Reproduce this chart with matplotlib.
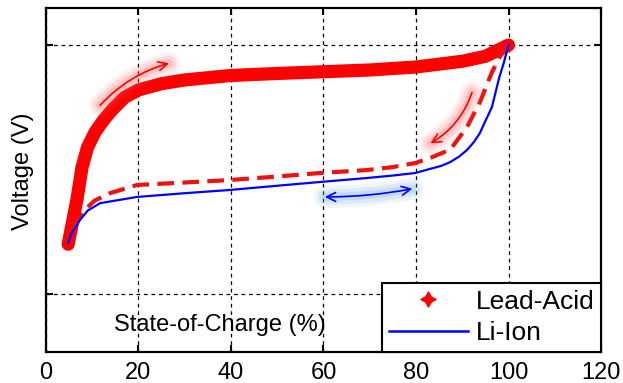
import matplotlib
matplotlib.use("Agg")
import matplotlib.pyplot as plt
from matplotlib.lines import Line2D
from matplotlib.patches import FancyArrowPatch
import numpy as np

plt.rcParams['font.family'] = ['Liberation Sans', 'DejaVu Sans']

# ---- data (normalised voltage) ----
lead_charge_soc = [4.8, 5.7, 6.7, 7.8, 9, 10.6, 12.5, 14.3, 17, 20, 25, 30, 40, 50, 60, 70, 80, 90, 95, 100]
lead_charge_v = [0.20, 0.285, 0.38, 0.51, 0.59, 0.65, 0.70, 0.74, 0.79, 0.82, 0.845, 0.86, 0.878,
                 0.886, 0.893, 0.90, 0.912, 0.935, 0.955, 1.0]

lead_dis_soc = [100, 98, 96.4, 93.8, 91, 87.4, 83.5, 79.8, 75, 69.4, 59.2, 50, 39.8, 30, 19.7, 13.8, 10.5, 8.8, 7.3, 6, 5]
lead_dis_v = [1.0, 0.95, 0.89, 0.77, 0.67, 0.58, 0.55, 0.526, 0.51, 0.498, 0.486, 0.472, 0.458, 0.448,
              0.438, 0.405, 0.375, 0.345, 0.31, 0.26, 0.21]

li_soc = [100, 99, 98, 97.2, 96.4, 95, 93.8, 92.5, 91, 89.3, 87.4, 85.5, 83.5, 79.8, 75, 69.4, 59.2,
          50, 39.8, 30, 19.7, 11.7, 9, 7.35, 5.6, 4.8]
li_v = [1.0, 0.93, 0.87, 0.81, 0.75, 0.695, 0.646, 0.61, 0.578, 0.552, 0.53, 0.515, 0.505, 0.486,
        0.476, 0.466, 0.45, 0.435, 0.418, 0.405, 0.39, 0.365, 0.335, 0.297, 0.245, 0.205]

x_ticks = [0, 20, 40, 60, 80, 100, 120]
y_ticks = [0, 1]
series_labels = ['Lead-Acid', 'Li-Ion']

# annotation arrows: (start, end)
charge_arrow = [(11.3, 0.75), (27.2, 0.93)]
discharge_arrow = [(92.3, 0.82), (82.6, 0.60)]
range_arrow = [(59.7, 0.39), (79.8, 0.425)]

fig = plt.figure(figsize=(6.23, 3.83), dpi=100)
ax = fig.add_axes([0.0738, 0.0809, 0.8909, 0.8982])

ax.set_xlim(0, 120)
ax.set_ylim(-0.233, 1.149)
ax.set_xticks(x_ticks)
ax.set_yticks(y_ticks)
ax.set_yticklabels([])
ax.tick_params(direction='in', length=5, width=1.5, top=True, right=True,
               labelsize=17, pad=7)
for s in ax.spines.values():
    s.set_linewidth(1.6)
ax.grid(True, color='black', linestyle=(0, (3, 3)), linewidth=0.9)
ax.set_axisbelow(True)

# curves
ax.plot(lead_charge_soc, lead_charge_v, color='#ff0000', lw=9.5, solid_capstyle='round',
        solid_joinstyle='round', zorder=3)
ax.plot(lead_dis_soc, lead_dis_v, color='#ee1111', lw=3, linestyle=(0, (4, 2)), zorder=4)
ax.plot(li_soc, li_v, color='#0000ff', lw=1.6, zorder=5)


def glow_arrow(p0, p1, rad, color, glow, style):
    for lw, a in [(16, 0.10), (11, 0.15), (6, 0.22)]:
        g = FancyArrowPatch(p0, p1, connectionstyle=f"arc3,rad={rad}", arrowstyle='-',
                            lw=lw, color=glow, alpha=a, capstyle='round', zorder=6)
        ax.add_patch(g)
    ar = FancyArrowPatch(p0, p1, connectionstyle=f"arc3,rad={rad}", arrowstyle=style,
                         mutation_scale=16, lw=1.2, color=color, zorder=7)
    ax.add_patch(ar)


glow_arrow(charge_arrow[0], charge_arrow[1], -0.15, '#ff0000', '#ff6666', '->')
glow_arrow(discharge_arrow[0], discharge_arrow[1], -0.2, '#ff0000', '#ff6666', '->')
glow_arrow(range_arrow[0], range_arrow[1], 0.05, '#0000ff', '#6fa6e8', '<->')

ax.set_xlabel('State-of-Charge (%)', fontsize=17)
ax.xaxis.set_label_coords(0.313, 0.078)
ax.xaxis.label.set_va('center')
ax.set_ylabel('Voltage (V)', fontsize=17)
ax.yaxis.set_label_coords(-0.041, 0.526)
ax.yaxis.label.set_va('center')

handles = [Line2D([], [], color='#ff0000', marker=(4, 1, 0), markersize=11, linestyle='none'),
           Line2D([], [], color='#0000ff', lw=1.8)]
leg = ax.legend(handles, series_labels, loc='lower right', borderaxespad=0, fontsize=19,
                fancybox=False, framealpha=1, edgecolor='black', handlelength=3.0,
                labelspacing=0.3, borderpad=0.25, handletextpad=0.3)
leg.get_frame().set_linewidth(1.5)
leg.set_zorder(10)

fig.savefig('out.png', dpi=100)
